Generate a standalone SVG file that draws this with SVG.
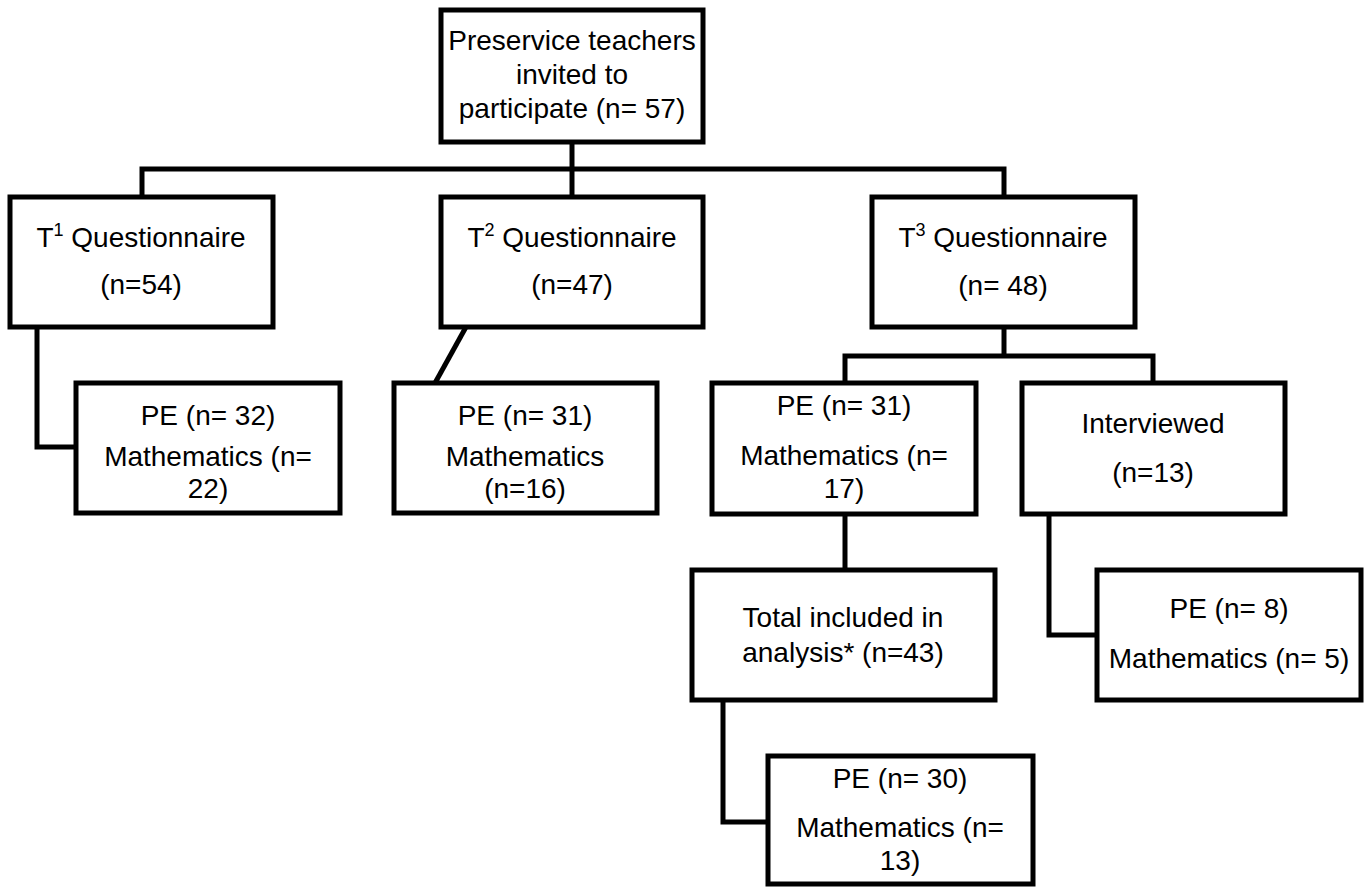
<svg xmlns="http://www.w3.org/2000/svg" width="1370" height="887" viewBox="0 0 1370 887">
<style>
.box{fill:#fff;stroke:#000;stroke-width:5;}
.ln{fill:none;stroke:#000;stroke-width:5;stroke-linejoin:miter;}
text{font-family:"Liberation Sans",Arial,sans-serif;font-size:28px;fill:#000;text-anchor:middle;}
.sup{font-size:18px;}
</style>
<rect width="1370" height="887" fill="#fff"/>
<g id="connectors">
<path class="ln" d="M142,197 V169 H1004 V197"/>
<path class="ln" d="M572,142 V197"/>
<path class="ln" d="M1004,327 V356"/>
<path class="ln" d="M845,382 V356 H1153 V382"/>
<path class="ln" d="M37,327 V447 H76"/>
<path class="ln" d="M466,327 L435,383"/>
<path class="ln" d="M845,514 V570"/>
<path class="ln" d="M1049,514 V635 H1097"/>
<path class="ln" d="M723,700 V822 H768"/>
</g>
<g id="top">
<rect class="box" x="441" y="10" width="262" height="132"/>
<text x="572" y="50">Preservice teachers</text>
<text x="572" y="84">invited to</text>
<text x="572" y="118">participate (n= 57)</text>
</g>
<g id="t1">
<rect class="box" x="10" y="197" width="263" height="130"/>
<text x="141" y="247">T<tspan class="sup" dy="-11">1</tspan><tspan dy="11"> Questionnaire</tspan></text>
<text x="141" y="294">(n=54)</text>
</g>
<g id="t2">
<rect class="box" x="441" y="197" width="262" height="130"/>
<text x="572" y="247">T<tspan class="sup" dy="-11">2</tspan><tspan dy="11"> Questionnaire</tspan></text>
<text x="572" y="294">(n=47)</text>
</g>
<g id="t3">
<rect class="box" x="872" y="197" width="263" height="130"/>
<text x="1003" y="247">T<tspan class="sup" dy="-11">3</tspan><tspan dy="11"> Questionnaire</tspan></text>
<text x="1003" y="295">(n= 48)</text>
</g>
<g id="pe-t1">
<rect class="box" x="76" y="383" width="264" height="130"/>
<text x="208" y="425">PE (n= 32)</text>
<text x="208" y="466">Mathematics (n=</text>
<text x="208" y="498">22)</text>
</g>
<g id="pe-t2">
<rect class="box" x="394" y="383" width="263" height="130"/>
<text x="525" y="425">PE (n= 31)</text>
<text x="525" y="466">Mathematics</text>
<text x="525" y="498">(n=16)</text>
</g>
<g id="pe-t3">
<rect class="box" x="712" y="383" width="264" height="131"/>
<text x="844" y="415">PE (n= 31)</text>
<text x="844" y="465">Mathematics (n=</text>
<text x="844" y="498">17)</text>
</g>
<g id="interviewed">
<rect class="box" x="1022" y="383" width="263" height="131"/>
<text x="1153" y="433">Interviewed</text>
<text x="1153" y="482">(n=13)</text>
</g>
<g id="total">
<rect class="box" x="692" y="570" width="303" height="130"/>
<text x="843" y="627">Total included in</text>
<text x="843" y="662">analysis* (n=43)</text>
</g>
<g id="pe-interviewed">
<rect class="box" x="1097" y="570" width="264" height="130"/>
<text x="1229" y="618">PE (n= 8)</text>
<text x="1229" y="668">Mathematics (n= 5)</text>
</g>
<g id="pe-total">
<rect class="box" x="768" y="756" width="265" height="128"/>
<text x="900" y="788">PE (n= 30)</text>
<text x="900" y="837">Mathematics (n=</text>
<text x="900" y="870">13)</text>
</g>
</svg>
